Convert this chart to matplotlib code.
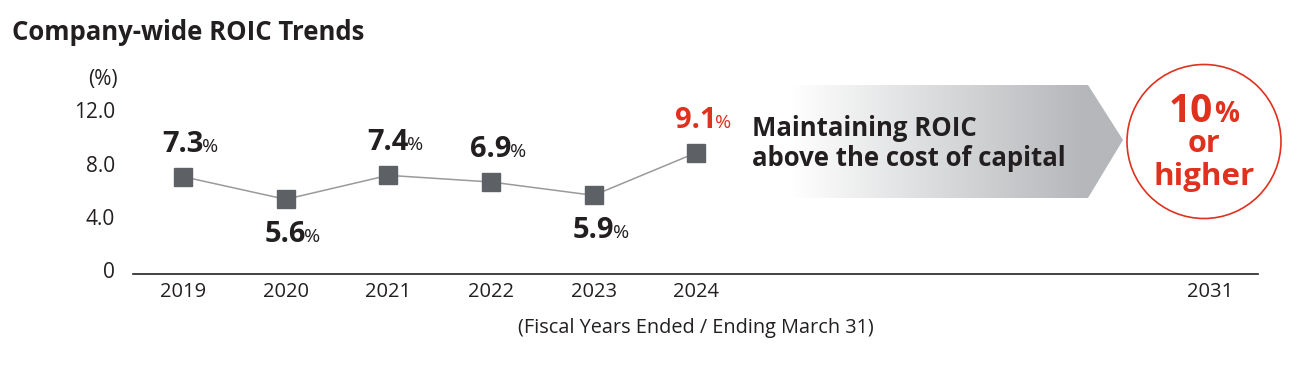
import numpy as np
import matplotlib
matplotlib.use("Agg")
import matplotlib.pyplot as plt
import matplotlib.transforms as mtransforms
from matplotlib.patches import Polygon, Circle
from matplotlib.offsetbox import TextArea, HPacker, AnnotationBbox
from matplotlib.colors import LinearSegmentedColormap

# data
years = ['2019', '2020', '2021', '2022', '2023', '2024']
roic = [7.3, 5.6, 7.4, 6.9, 5.9, 9.1]
target_year = '2031'
target_text = ['10', 'or', 'higher']
y_ticks = [0, 4, 8, 12]
y_tick_labels = ['0', '4.0', '8.0', '12.0']
arrow_lines = ['Maintaining ROIC', 'above the cost of capital']

plt.rcParams['font.family'] = ['Open Sans', 'DejaVu Sans']
dark = '#231f20'
red = '#e0301e'

fig = plt.figure(figsize=(13, 3.72), dpi=100)

# decoration layer in pixel coordinates
bg = fig.add_axes([0, 0, 1, 1])
bg.axis('off')
bg.set_zorder(0)

ax = fig.add_axes([133 / 1300, 1 - 274 / 372, 1125 / 1300, 160 / 372])
ax.set_zorder(1)
ax.patch.set_alpha(0)

x = np.arange(len(years))
x_target = 10
ax.plot(x, roic, color='#9a9a9a', lw=1.1, zorder=2)
ax.plot(x, roic, ls='none', marker='s', ms=12.5, color='#5d6166', zorder=3)

ax.set_xlim(-0.487, 10.47)
ax.set_ylim(0, 12)
for s in ['top', 'right', 'left']:
    ax.spines[s].set_visible(False)
ax.spines['bottom'].set_color('#222222')
ax.spines['bottom'].set_linewidth(1.2)
ax.set_yticks(y_ticks)
ax.set_yticklabels(y_tick_labels, fontsize=15, color=dark)
ax.set_xticks(list(x) + [x_target])
ax.set_xticklabels(years + [target_year], fontsize=14.5, color=dark)
ax.tick_params(axis='y', length=0, pad=13)
ax.tick_params(axis='x', length=0, pad=6)
shift = mtransforms.ScaledTranslation(0, 3.5 / 100, fig.dpi_scale_trans)
for lbl in ax.get_yticklabels():
    lbl.set_transform(lbl.get_transform() + shift)
ax.set_xlabel('(Fiscal Years Ended / Ending March 31)', fontsize=14.3, color=dark,
              labelpad=11)

# value labels
side = [1, -1, 1, 1, -1, 1]
for i, v in enumerate(roic):
    col = red if i == len(roic) - 1 else dark
    num = TextArea(f'{v:.1f}', textprops=dict(fontsize=21, fontweight='bold', color=col))
    pct = TextArea('%', textprops=dict(fontsize=14, color=col))
    box = HPacker(children=[num, pct], align='baseline', pad=0, sep=-1)
    off = 13 if side[i] > 0 else -15
    ab = AnnotationBbox(box, (x[i], v), xybox=(5, off), xycoords='data',
                        boxcoords='offset points', frameon=False,
                        box_alignment=(0.5, 0 if side[i] > 0 else 1),
                        annotation_clip=False)
    ax.add_artist(ab)

bg.set_xlim(0, 1300)
bg.set_ylim(372, 0)

# title
bg.text(12, 33, 'Company-wide ROIC Trends', fontsize=18.5, fontweight='bold',
        color=dark, va='center', ha='left')
bg.text(118, 80, '(%)', fontsize=15, color=dark, ha='right', va='center')

# gradient arrow
poly = Polygon([(790, 85), (1088, 85), (1123, 140), (1088, 198), (790, 198)],
               closed=True, facecolor='none', edgecolor='none')
bg.add_patch(poly)
cmap = LinearSegmentedColormap.from_list(
    'g', [(0, '#ffffff'), (0.88, '#b5b7ba'), (1, '#b5b7ba')])
grad = np.linspace(0, 1, 256).reshape(1, -1)
im = bg.imshow(grad, cmap=cmap, extent=(790, 1124, 198, 85), aspect='auto', zorder=1)
im.set_clip_path(poly)
bg.text(752, 128, arrow_lines[0], fontsize=18.5, fontweight='bold', color=dark,
        va='center', ha='left', zorder=2)
bg.text(752, 158, arrow_lines[1], fontsize=18.5, fontweight='bold', color=dark,
        va='center', ha='left', zorder=2)

# target circle
bg.add_patch(Circle((1204, 141.5), 77, facecolor='white', edgecolor=red, lw=1.2, zorder=2))
t_num = TextArea(target_text[0], textprops=dict(fontsize=28, fontweight='bold', color=red))
t_pct = TextArea('%', textprops=dict(fontsize=20, fontweight='bold', color=red))
t_box = HPacker(children=[t_num, t_pct], align='baseline', pad=0, sep=1)
bg.add_artist(AnnotationBbox(t_box, (1204, 111), xycoords='data', frameon=False,
                             box_alignment=(0.5, 0.5), zorder=3))
bg.text(1204, 152, target_text[1], fontsize=22, fontweight='bold', color=red,
        ha='center', va='baseline', zorder=3)
bg.text(1204, 185, target_text[2], fontsize=22.5, fontweight='bold', color=red,
        ha='center', va='baseline', zorder=3)

fig.savefig('out.png', dpi=100)
